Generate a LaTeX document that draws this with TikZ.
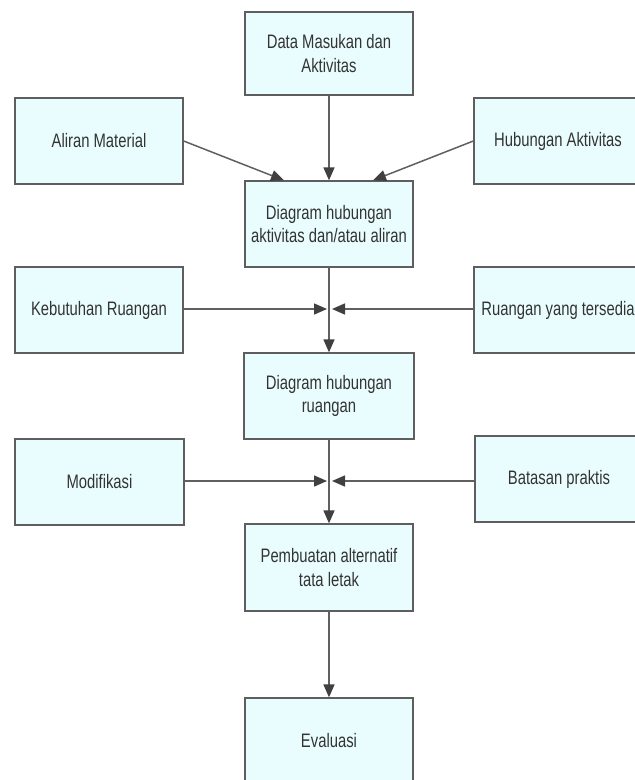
\documentclass[tikz,border=0pt]{standalone}
\usepackage{fontspec}
\setmainfont{Liberation Sans}[FakeStretch=0.76]
\usetikzlibrary{arrows.meta,calc}
\definecolor{boxfill}{HTML}{EAFDFE}
\definecolor{boxline}{HTML}{5E5E5E}
\definecolor{arrline}{HTML}{606060}
\definecolor{arrhead}{HTML}{404040}
\definecolor{txt}{HTML}{333333}
\begin{document}
\begin{tikzpicture}[x=1pt,y=-1pt,
  box/.style={draw=boxline,line width=1.3pt,fill=boxfill,minimum width=168pt,minimum height=86pt,
    align=center,text=txt,font=\fontsize{19.5}{23.5}\selectfont,inner sep=0pt},
  conn/.style={draw=arrline,line width=1.5pt,-{Triangle[length=13pt,width=11pt,color=arrhead]}}]
\useasboundingbox (0,0) rectangle (635,780);
\clip (0,0) rectangle (635,780);
\fill[white] (0,0) rectangle (635,780);
\node[box,minimum height=83pt] (data) at (329,53.5) {Data Masukan dan\\Aktivitas};
\node[box] (aliran) at (99,141) {Aliran Material};
\node[box] (hub) at (558,141) {Hubungan Aktivitas};
\node[box] (diag1) at (329,224) {Diagram hubungan\\aktivitas dan/atau aliran};
\node[box] (keb) at (99,310) {Kebutuhan Ruangan};
\node[box] (ruang) at (558,310) {Ruangan yang tersedia};
\node[box,minimum width=170pt] (diag2) at (329,396) {Diagram hubungan\\ruangan};
\node[box,minimum width=169pt] (modif) at (99.5,482) {Modifikasi};
\node[box] (batas) at (559,479) {Batasan praktis};
\node[box,minimum height=87pt] (pemb) at (329,567.5) {Pembuatan alternatif\\tata letak};
\node[box] (eval) at (329,741) {Evaluasi};
\coordinate (j1) at (329,309);
\coordinate (j2) at (329,481);
\draw[conn] (data) -- (diag1);
\draw[conn] (aliran.east) -- ($(diag1.north)+(-45,0)$);
\draw[conn] (hub.west) -- ($(diag1.north)+(44,0)$);
\draw[conn] (diag1) -- (diag2);
\draw[conn] (keb.east |- j1) -- ($(j1)+(-2,0)$);
\draw[conn] (ruang.west |- j1) -- ($(j1)+(3,0)$);
\draw[conn] (diag2) -- (pemb);
\draw[conn] (modif.east |- j2) -- ($(j2)+(-2,0)$);
\draw[conn] (batas.west |- j2) -- ($(j2)+(3,0)$);
\draw[conn] (pemb) -- (eval);
\end{tikzpicture}
\end{document}
